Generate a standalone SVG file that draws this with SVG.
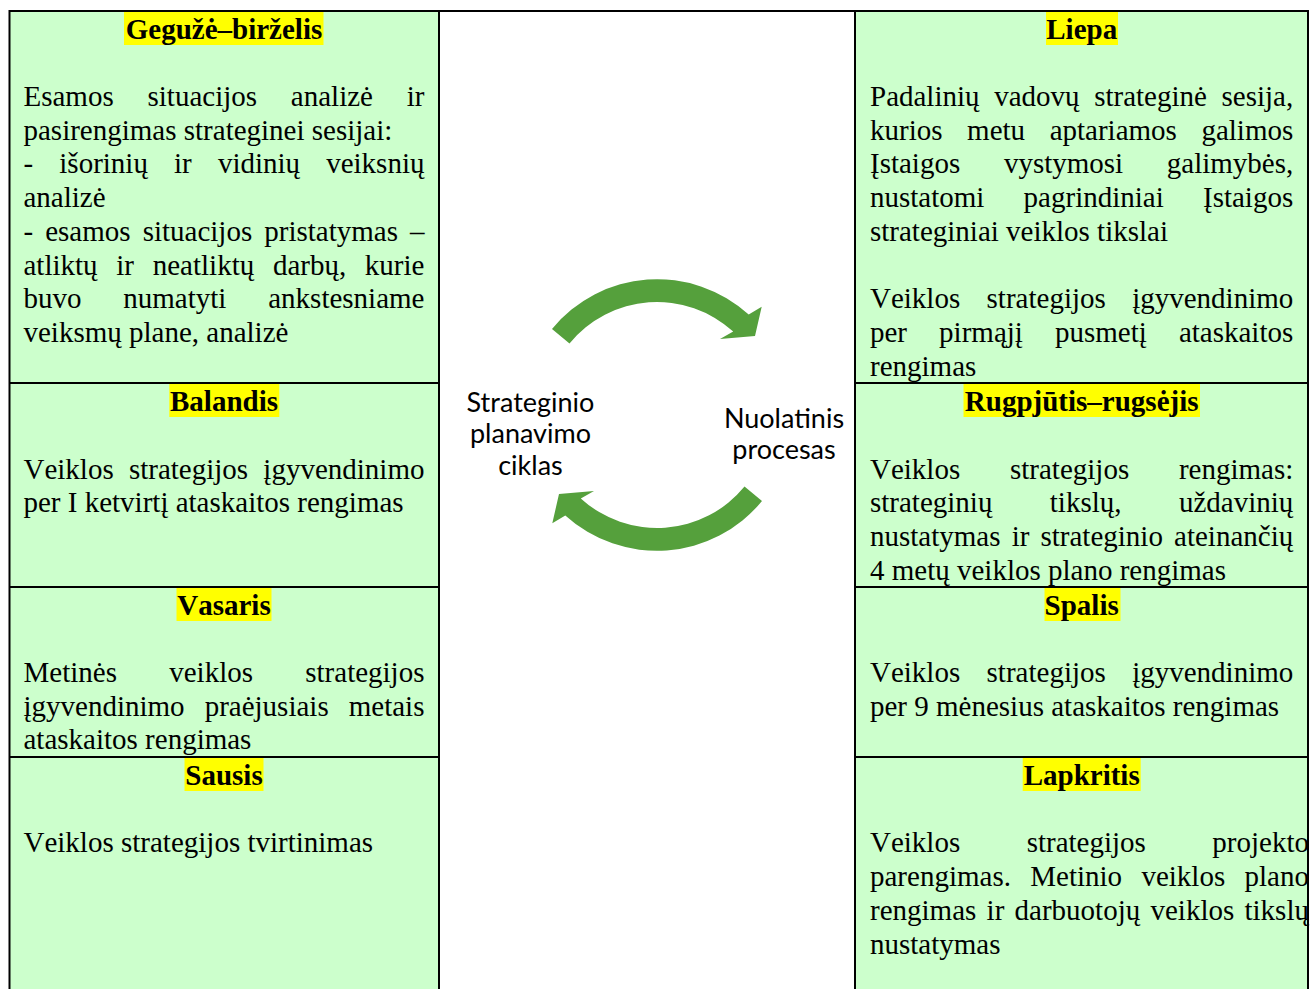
<svg xmlns="http://www.w3.org/2000/svg" width="1310" height="989" viewBox="0 0 1310 989">
<style>
.cell{fill:#CCFFCC}
.hl{fill:#FFFF00}
.t{font-family:"Liberation Serif","Times New Roman",serif;font-size:29px;fill:#000;font-kerning:none}
.h{font-weight:bold;text-anchor:middle}
.c{font-family:Lato,"Open Sans",sans-serif;font-size:27px;fill:#000;text-anchor:middle}
.grid{stroke:#000;stroke-width:2;fill:none}
.arrow{fill:#55A03C}
</style>
<defs>
<path id="cyc" d="M552,329 A136,136 0 0 1 748.7,314.6 L761.7,306.7 L755,336 L720,339 L733.2,331.6 A113,113 0 0 0 569.5,343.4 Z"/>
</defs>
<rect width="1310" height="989" fill="#fff"/>

<g id="geguze-birzelis">
<rect class="cell" x="9" y="11" width="430" height="372"/>
<rect class="hl" x="124" y="12" width="199.5" height="33"/>
<text class="t h" x="224" y="39.3">Gegužė–birželis</text>
<text class="t" x="23.5" y="106" word-spacing="26.54">Esamos situacijos analizė ir</text>
<text class="t" x="23.5" y="139.7">pasirengimas strateginei sesijai:</text>
<text class="t" x="23.5" y="173.4" word-spacing="18.88">- išorinių ir vidinių veiksnių</text>
<text class="t" x="23.5" y="207.1">analizė</text>
<text class="t" x="23.5" y="240.8" word-spacing="4.80">- esamos situacijos pristatymas –</text>
<text class="t" x="23.5" y="274.5" word-spacing="11.45">atliktų ir neatliktų darbų, kurie</text>
<text class="t" x="23.5" y="308.2" word-spacing="34.56">buvo numatyti ankstesniame</text>
<text class="t" x="23.5" y="341.9">veiksmų plane, analizė</text>
</g>

<g id="balandis">
<rect class="cell" x="9" y="383" width="430" height="204"/>
<rect class="hl" x="169.3" y="384" width="110" height="33"/>
<text class="t h" x="224" y="411.3">Balandis</text>
<text class="t" x="23.5" y="478.7" word-spacing="7.97">Veiklos strategijos įgyvendinimo</text>
<text class="t" x="23.5" y="512.4">per I ketvirtį ataskaitos rengimas</text>
</g>

<g id="vasaris">
<rect class="cell" x="9" y="587" width="430" height="170"/>
<rect class="hl" x="176.5" y="588" width="95" height="33"/>
<text class="t h" x="224" y="615">Vasaris</text>
<text class="t" x="23.5" y="682" word-spacing="45.03">Metinės veiklos strategijos</text>
<text class="t" x="23.5" y="715.7" word-spacing="12.81">įgyvendinimo praėjusiais metais</text>
<text class="t" x="23.5" y="749.4">ataskaitos rengimas</text>
</g>

<g id="sausis">
<rect class="cell" x="9" y="757" width="430" height="232"/>
<rect class="hl" x="184.5" y="758" width="79" height="33"/>
<text class="t h" x="224" y="785">Sausis</text>
<text class="t" x="23.5" y="852.4">Veiklos strategijos tvirtinimas</text>
</g>

<g id="liepa">
<rect class="cell" x="855" y="11" width="453" height="372"/>
<rect class="hl" x="1046" y="12" width="72" height="33"/>
<text class="t h" x="1081.7" y="39.3">Liepa</text>
<text class="t" x="870" y="106" word-spacing="7.39">Padalinių vadovų strateginė sesija,</text>
<text class="t" x="870" y="139.7" word-spacing="17.32">kurios metu aptariamos galimos</text>
<text class="t" x="870" y="173.4" word-spacing="36.43">Įstaigos vystymosi galimybės,</text>
<text class="t" x="870" y="207.1" word-spacing="31.98">nustatomi pagrindiniai Įstaigos</text>
<text class="t" x="870" y="240.8">strateginiai veiklos tikslai</text>
<text class="t" x="870" y="308.2" word-spacing="19.12">Veiklos strategijos įgyvendinimo</text>
<text class="t" x="870" y="341.9" word-spacing="24.84">per pirmąjį pusmetį ataskaitos</text>
<text class="t" x="870" y="375.6">rengimas</text>
</g>

<g id="rugpjutis-rugsejis">
<rect class="cell" x="855" y="383" width="453" height="204"/>
<rect class="hl" x="963.5" y="384" width="236.5" height="33"/>
<text class="t h" x="1081.7" y="411.3">Rugpjūtis–rugsėjis</text>
<text class="t" x="870" y="478.7" word-spacing="42.50">Veiklos strategijos rengimas:</text>
<text class="t" x="870" y="512.4" word-spacing="50.14">strateginių tikslų, uždavinių</text>
<text class="t" x="870" y="546.1" word-spacing="3.90">nustatymas ir strateginio ateinančių</text>
<text class="t" x="870" y="579.8">4 metų veiklos plano rengimas</text>
</g>

<g id="spalis">
<rect class="cell" x="855" y="587" width="453" height="170"/>
<rect class="hl" x="1044.5" y="588" width="76" height="33"/>
<text class="t h" x="1081.7" y="615">Spalis</text>
<text class="t" x="870" y="682" word-spacing="19.12">Veiklos strategijos įgyvendinimo</text>
<text class="t" x="870" y="715.7">per 9 mėnesius ataskaitos rengimas</text>
</g>

<g id="lapkritis">
<rect class="cell" x="855" y="757" width="453" height="232"/>
<rect class="hl" x="1022.7" y="758" width="118" height="33"/>
<text class="t h" x="1081.7" y="785">Lapkritis</text>
<text class="t" x="870" y="852.4" word-spacing="59.2">Veiklos strategijos projekto</text>
<text class="t" x="870" y="886.1" word-spacing="12.08">parengimas. Metinio veiklos plano</text>
<text class="t" x="870" y="919.8" word-spacing="3.02">rengimas ir darbuotojų veiklos tikslų</text>
<text class="t" x="870" y="953.5">nustatymas</text>
</g>

<g id="cycle-labels">
<text class="c" x="530.5" y="411.7">Strateginio</text>
<text class="c" x="530.5" y="443.4">planavimo</text>
<text class="c" x="530.5" y="475">ciklas</text>
<text class="c" x="784" y="427.5">Nuolatinis</text>
<text class="c" x="784" y="459.3">procesas</text>
</g>

<g id="connectors">
<use href="#cyc" class="arrow"/>
<use href="#cyc" class="arrow" transform="rotate(180 657 415)"/>
</g>

<g id="grid" class="grid">
<path d="M9,11 H1309"/>
<path d="M9.5,10 V989 M439,10 V989 M855,10 V989 M1308,10 V989"/>
<path d="M9,383 H439 M9,587 H439 M9,757 H439"/>
<path d="M855,383 H1309 M855,587 H1309 M855,757 H1309"/>
</g>
</svg>
